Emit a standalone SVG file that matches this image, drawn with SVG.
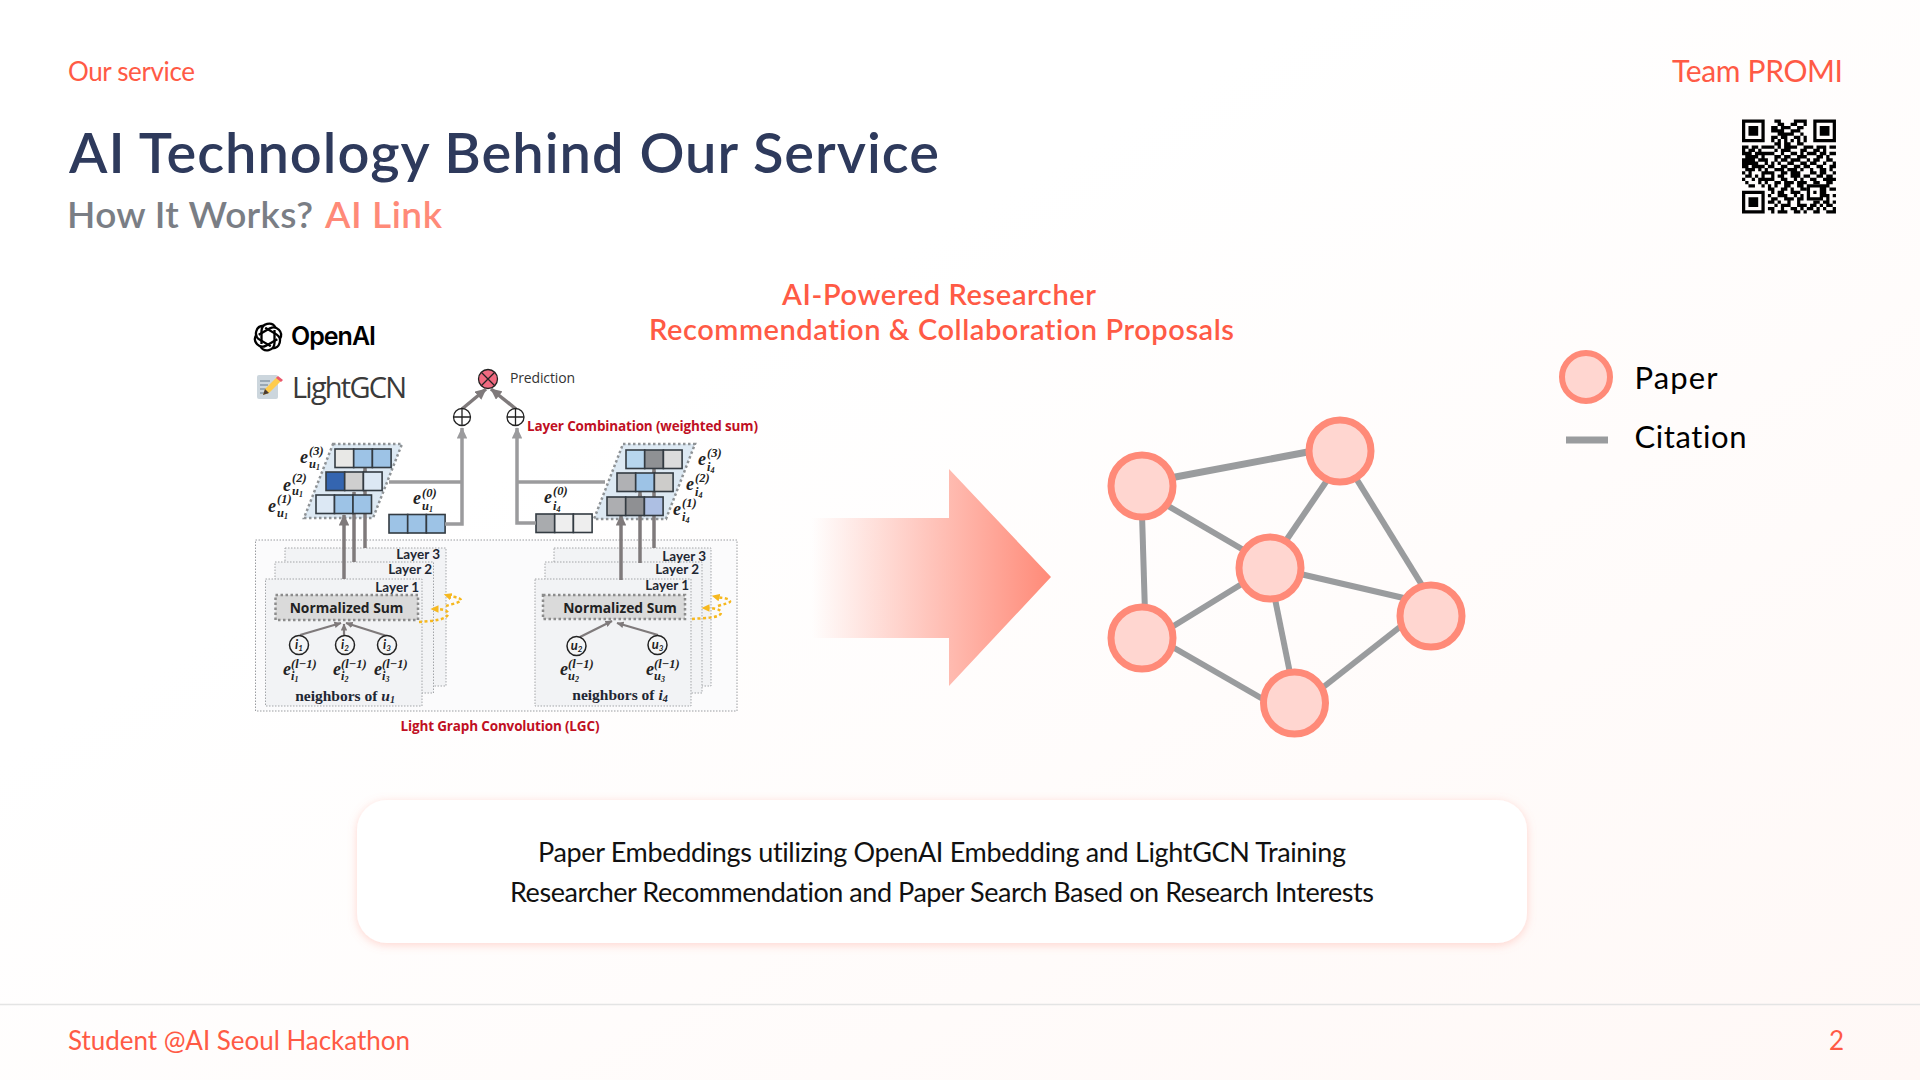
<svg xmlns="http://www.w3.org/2000/svg" width="1920" height="1080" viewBox="0 0 1920 1080">
<style>
text{font-family:"Lato","Noto Sans",sans-serif;font-variant-ligatures:none}
.coral{fill:#ff5a45}
.node{fill:#ffd6d0;stroke:#ff8a78;stroke-width:7}
.edge{stroke:#9a9c9e;stroke-width:6;fill:none}
.body{fill:#111;font-size:27px}
.serif{font-family:"Liberation Serif",serif;font-weight:700;fill:#1f2733}
.math{font-family:"Liberation Serif",serif;font-weight:700;font-style:italic;fill:#222;font-size:18px}
.ms{font-family:"Liberation Serif",serif;font-weight:700;font-style:italic;fill:#222;font-size:12.5px}
.mss{font-family:"Liberation Serif",serif;font-weight:700;fill:#222;font-size:8px}
.red{font-family:"Open Sans",sans-serif;font-weight:700;fill:#c00f23;font-size:13.5px}
.cell{stroke:#333b42;stroke-width:1.6}
.gl{stroke:#9b9b9d;stroke-width:3.5;fill:none}
.up{stroke:#7f7a7b;stroke-width:3.5;fill:none}
.para{fill:#dde9f3;stroke:#8f9396;stroke-width:2.5;stroke-dasharray:2.5 2.5}
.layer{fill:#f2f3f5;stroke:#a3a5a8;stroke-width:1;stroke-dasharray:1.5 1.5}
.ns{fill:#dadada;stroke:#8c8c8c;stroke-width:2.5;stroke-dasharray:2.5 2.5}
.nst{font-family:"Open Sans",sans-serif;font-weight:700;font-size:13.8px;fill:#222;text-anchor:middle}
.ring{fill:#f4f5f6;stroke:#222;stroke-width:1.5}
.yl{fill:none;stroke:#f6b81f;stroke-width:2.5;stroke-dasharray:3 2.5}
.sym{fill:none;stroke:#222;stroke-width:1.3}
</style>
<defs>
<linearGradient id="bg" x1="0" y1="0" x2="1" y2="1"><stop offset="0.35" stop-color="#ffffff"/><stop offset="1" stop-color="#fff8f6"/></linearGradient>
<linearGradient id="ag" gradientUnits="userSpaceOnUse" x1="812" y1="577" x2="1051" y2="577"><stop offset="0" stop-color="#ff8a78" stop-opacity="0"/><stop offset="1" stop-color="#ff8a78"/></linearGradient>
<filter id="sh" x="-5%" y="-15%" width="110%" height="130%"><feDropShadow dx="0" dy="2" stdDeviation="5" flood-color="#ff8a78" flood-opacity="0.35"/></filter>
<marker id="ag1" markerWidth="3.4" markerHeight="3" refX="3" refY="1.5" orient="auto"><path d="M0 0L3.2 1.5L0 3z" fill="#9b9b9d"/></marker>
<marker id="ag2" markerWidth="3.4" markerHeight="3" refX="3" refY="1.5" orient="auto"><path d="M0 0L3.2 1.5L0 3z" fill="#7f7a7b"/></marker>
<marker id="ay" markerWidth="3.4" markerHeight="3" refX="1" refY="1.5" orient="auto"><path d="M0 0L3.2 1.5L0 3z" fill="#f6b81f"/></marker>
<path id="petal" d="M-6.500 7V-6A7.500 7.500 0 0 1 7.500 -9.500"/>
</defs>
<rect width="1920" height="1080" fill="url(#bg)"/>

<text x="68" y="81" class="coral" font-size="26" textLength="127">Our service</text>
<text x="1843" y="82" class="coral" font-size="30" text-anchor="end" textLength="171">Team PROMI</text>
<text x="69" y="173" font-size="56" font-weight="600" fill="#2e3a5c" textLength="870">AI Technology Behind Our Service</text>
<text x="67" y="228" font-size="37" fill="#7a7e85" font-weight="600" textLength="246">How It Works?</text>
<text x="325" y="228" font-size="37" fill="#ff8a78" font-weight="600" textLength="117">AI Link</text>

<g id="qr" transform="translate(1742 119.500) scale(3.24)">
<path fill="#000" fill-rule="evenodd" d="M0 0h7v7h-7zM1 1v5h5v-5zM22 0h7v7h-7zM23 1v5h5v-5zM0 22h7v7h-7zM1 23v5h5v-5zM2 2h3v3h-3zM24 2h3v3h-3zM2 24h3v3h-3zM20 20h5v5h-5zM21 21v3h3v-3zM22 22h1v1h-1z"/>
<path stroke="#000" stroke-width="1.02" fill="none" d="M10 .5h2M16 .5h4M11 1.5h2M15 1.5h2M19 1.5h1M9 2.5h2M12 2.5h3M17 2.5h2M9 3.5h4M15 3.5h3M11 4.5h5M18 4.5h1M9 5.5h2M12 5.5h2M16 5.5h2M19 5.5h1M9 6.5h1M11 6.5h1M13 6.5h1M15 6.5h1M17 6.5h1M19 6.5h1M10 7.5h2M13 7.5h2M17 7.5h2M0 8.5h2M3 8.5h2M6 8.5h4M11 8.5h1M13 8.5h4M19 8.5h2M21 8.5h1M23 8.5h3M27 8.5h2M0 9.5h1M2 9.5h2M5 9.5h1M10 9.5h1M12 9.5h3M18 9.5h2M22 9.5h2M25 9.5h1M0 10.5h3M4 10.5h6M12 10.5h1M15 10.5h2M18 10.5h1M20 10.5h3M24 10.5h2M27 10.5h2M1 11.5h4M6 11.5h1M10 11.5h2M13 11.5h2M17 11.5h3M23 11.5h2M26 11.5h1M0 12.5h4M5 12.5h3M10 12.5h1M12 12.5h2M15 12.5h3M20 12.5h1M22 12.5h2M26 12.5h2M0 13.5h5M7 13.5h1M9 13.5h1M11 13.5h1M14 13.5h2M18 13.5h2M21 13.5h2M25 13.5h1M28 13.5h1M0 14.5h2M3 14.5h4M8 14.5h2M12 14.5h2M16 14.5h2M19 14.5h2M23 14.5h2M27 14.5h2M1 15.5h3M5 15.5h1M7 15.5h1M10 15.5h3M14 15.5h3M18 15.5h1M21 15.5h1M24 15.5h2M27 15.5h1M0 16.5h1M2 16.5h1M6 16.5h3M9 16.5h1M12 16.5h2M15 16.5h3M21 16.5h2M24 16.5h2M28 16.5h1M1 17.5h2M4 17.5h1M6 17.5h1M9 17.5h1M11 17.5h2M15 17.5h3M19 17.5h2M23 17.5h2M26 17.5h2M0 18.5h1M3 18.5h1M5 18.5h5M12 18.5h2M16 18.5h1M18 18.5h1M21 18.5h2M25 18.5h2M27 18.5h2M1 19.5h1M5 19.5h1M7 19.5h1M10 19.5h2M13 19.5h3M17 19.5h3M22 19.5h2M26 19.5h2M2 20.5h2M6 20.5h1M8 20.5h1M10 20.5h1M13 20.5h2M17 20.5h2M25 20.5h2M8 21.5h2M12 21.5h2M15 21.5h1M18 21.5h2M25 21.5h1M27 21.5h2M9 22.5h1M11 22.5h2M15 22.5h3M25 22.5h1M8 23.5h1M11 23.5h3M16 23.5h1M18 23.5h1M25 23.5h2M28 23.5h1M9 24.5h2M13 24.5h3M17 24.5h2M26 24.5h1M8 25.5h2M11 25.5h1M14 25.5h1M17 25.5h1M22 25.5h2M25 25.5h2M28 25.5h1M10 26.5h1M12 26.5h3M17 26.5h3M21 26.5h2M24 26.5h1M26 26.5h2M8 27.5h2M12 27.5h1M15 27.5h2M18 27.5h1M20 27.5h2M23 27.5h1M25 27.5h1M28 27.5h1M9 28.5h1M11 28.5h3M16 28.5h2M19 28.5h1M22 28.5h2M26 28.5h3"/>
</g>

<g id="heading">
<text x="939" y="305" class="coral" font-size="29" font-weight="600" text-anchor="middle" textLength="314">AI-Powered Researcher</text>
<text x="941.500" y="340" class="coral" font-size="29" font-weight="600" text-anchor="middle" textLength="585">Recommendation &amp; Collaboration Proposals</text>
</g>

<g id="openai-logo" transform="translate(268 337)" fill="none" stroke="#000" stroke-width="2.300">
<use href="#petal"/>
<use href="#petal" transform="rotate(60)"/>
<use href="#petal" transform="rotate(120)"/>
<use href="#petal" transform="rotate(180)"/>
<use href="#petal" transform="rotate(240)"/>
<use href="#petal" transform="rotate(300)"/>
</g>
<text x="291" y="345" font-size="25" font-weight="600" fill="#000" style="font-family:Inter,sans-serif" textLength="85">OpenAI</text>
<g id="memo-icon">
<rect x="257" y="375" width="21" height="24" rx="2" fill="#ccd6dd"/>
<path d="M260 381h10M260 385h8M260 389h7M260 393h8" stroke="#8899a6" stroke-width="1.3"/>
<path d="M263 395l2-6 12-12 4 4-12 12z" fill="#ffcc4d"/>
<path d="M276 378l2-2 5 4-2 2z" fill="#ea596e"/>
<path d="M263 395l2-6 4 4z" fill="#4a3b33"/>
</g>
<text x="292" y="398" font-size="29" fill="#3a3a3a" style="font-family:'Open Sans',sans-serif" textLength="115">LightGCN</text>

<g id="lightgcn-figure">
<rect x="255.500" y="540" width="481.500" height="171" fill="#fbfbfc" stroke="#9a9ca0" stroke-width="1" stroke-dasharray="1.500 1.500"/>
<rect class="layer" x="285" y="548" width="161" height="138"/>
<rect class="layer" x="275" y="562" width="158.500" height="131"/>
<rect class="layer" x="265.500" y="579" width="156.500" height="127"/>
<g id="right-stack-boxes" transform="translate(2 0)">
<rect class="layer" x="552" y="548" width="157" height="138"/>
<rect class="layer" x="543" y="562" width="157" height="131"/>
<rect class="layer" x="533" y="579" width="156" height="127"/>
</g>
<g class="serif" font-size="13.500" text-anchor="end">
<text x="440" y="559">Layer 3</text><text x="432" y="574">Layer 2</text><text x="419" y="592">Layer 1</text>
<text x="706" y="561">Layer 3</text><text x="699" y="574">Layer 2</text><text x="689" y="590">Layer 1</text>
</g>
<rect class="ns" x="275.500" y="595" width="142.500" height="25"/>
<rect class="ns" x="543" y="595" width="142" height="24"/>
<text class="nst" x="346.500" y="613">Normalized Sum</text>
<text class="nst" x="620" y="613">Normalized Sum</text>
<g class="up">
<path stroke-width="2.200" marker-end="url(#ag2)" d="M300 635L341 623"/>
<path stroke-width="2.200" marker-end="url(#ag2)" d="M344 635L344 624"/>
<path stroke-width="2.200" marker-end="url(#ag2)" d="M387 636L346 623"/>
<path stroke-width="2.200" marker-end="url(#ag2)" d="M580 637L612 621"/>
<path stroke-width="2.200" marker-end="url(#ag2)" d="M658 635L617 623"/>
</g>
<g class="ring">
<circle cx="299" cy="645" r="9.500"/><circle cx="345" cy="645" r="9.500"/><circle cx="387" cy="645" r="9.500"/><circle cx="576.500" cy="646" r="9.500"/><circle cx="657.500" cy="645" r="9.500"/>
</g>
<g class="ms" text-anchor="middle">
<text x="299" y="649" style="font-size:13px">i<tspan dy="2" style="font-size:8px">1</tspan></text>
<text x="345" y="649" style="font-size:13px">i<tspan dy="2" style="font-size:8px">2</tspan></text>
<text x="387" y="649" style="font-size:13px">i<tspan dy="2" style="font-size:8px">3</tspan></text>
<text x="576.500" y="650" style="font-size:13px">u<tspan dy="2" style="font-size:8px">2</tspan></text>
<text x="657.500" y="649" style="font-size:13px">u<tspan dy="2" style="font-size:8px">3</tspan></text>
</g>
<g>
<text class="math" x="283" y="675">e</text><text class="ms" x="291" y="668">(l−1)</text><text class="ms" x="291" y="680">i<tspan class="mss" dy="2">1</tspan></text>
<text class="math" x="333" y="675">e</text><text class="ms" x="341" y="668">(l−1)</text><text class="ms" x="341" y="680">i<tspan class="mss" dy="2">2</tspan></text>
<text class="math" x="374" y="675">e</text><text class="ms" x="382" y="668">(l−1)</text><text class="ms" x="382" y="680">i<tspan class="mss" dy="2">3</tspan></text>
<text class="math" x="560" y="675">e</text><text class="ms" x="568" y="668">(l−1)</text><text class="ms" x="568" y="680">u<tspan class="mss" dy="2">2</tspan></text>
<text class="math" x="646" y="675">e</text><text class="ms" x="654" y="668">(l−1)</text><text class="ms" x="654" y="680">u<tspan class="mss" dy="2">3</tspan></text>
</g>
<text class="serif" font-size="15.500" x="345" y="701" text-anchor="middle">neighbors of <tspan font-style="italic">u<tspan font-size="10" dy="2">1</tspan></tspan></text>
<text class="serif" font-size="15.500" x="620" y="700" text-anchor="middle">neighbors of <tspan font-style="italic">i<tspan font-size="10" dy="2">4</tspan></tspan></text>
<path class="yl" d="M419 622C432 621 447 620 448 614C449 610 440 609 436 609" marker-end="url(#ay)"/>
<path class="yl" d="M446 606C452 604 462 602 461 600C460 597 452 597 449 596" marker-end="url(#ay)"/>
<path class="yl" d="M692 619C704 618 720 618 721 613C722 609 712 608 707 608" marker-end="url(#ay)"/>
<path class="yl" d="M718 606C724 604 731 603 730 601C729 598 721 598 717 597" marker-end="url(#ay)"/>
<text class="red" x="500" y="731" text-anchor="middle" textLength="199">Light Graph Convolution (LGC)</text>

<polygon class="para" points="333,444 402,444 373,518 304,518"/>
<polygon class="para" points="623,444 695,444 666,519 594,519"/>

<g class="up">
<path marker-end="url(#ag2)" d="M344 579V515"/>
<path marker-end="url(#ag2)" d="M354 562V492"/>
<path marker-end="url(#ag2)" d="M365 548V468"/>
<path marker-end="url(#ag2)" d="M621 580V515"/>
<path marker-end="url(#ag2)" d="M640 563V492"/>
<path marker-end="url(#ag2)" d="M654 548V469"/>
</g>
<g id="emb-u3" class="cell"><rect x="335" y="449" width="18.700" height="18.500" fill="#e8e8e6"/><rect x="353.700" y="449" width="18.700" height="18.500" fill="#9dc3e6"/><rect x="372.400" y="449" width="18.700" height="18.500" fill="#9dc3e6"/></g>
<g id="emb-u2" class="cell"><rect x="326" y="472" width="18.700" height="18.500" fill="#3465b0"/><rect x="344.700" y="472" width="18.700" height="18.500" fill="#cfcfcf"/><rect x="363.400" y="472" width="18.700" height="18.500" fill="#dce8f4"/></g>
<g id="emb-u1" class="cell"><rect x="316" y="495" width="18.500" height="18.500" fill="#dce8f4"/><rect x="334.500" y="495" width="18.500" height="18.500" fill="#9dc3e6"/><rect x="353" y="495" width="18.500" height="18.500" fill="#9dc3e6"/></g>
<g id="emb-u0" class="cell"><rect x="389" y="514.500" width="18.700" height="18.500" fill="#9dc3e6"/><rect x="407.700" y="514.500" width="18.700" height="18.500" fill="#9dc3e6"/><rect x="426.400" y="514.500" width="18.700" height="18.500" fill="#9dc3e6"/></g>
<g id="emb-i3" class="cell"><rect x="626" y="450" width="18.700" height="18.500" fill="#b7d6ee"/><rect x="644.700" y="450" width="18.700" height="18.500" fill="#8f9194"/><rect x="663.400" y="450" width="18.700" height="18.500" fill="#dcdcdc"/></g>
<g id="emb-i2" class="cell"><rect x="617" y="473" width="18.700" height="18.500" fill="#b0b1b4"/><rect x="635.700" y="473" width="18.700" height="18.500" fill="#9dc3e6"/><rect x="654.400" y="473" width="18.700" height="18.500" fill="#cdccca"/></g>
<g id="emb-i1" class="cell"><rect x="607" y="497" width="18.700" height="18.500" fill="#adaeb1"/><rect x="625.700" y="497" width="18.700" height="18.500" fill="#8f9093"/><rect x="644.400" y="497" width="18.700" height="18.500" fill="#adbfe3"/></g>
<g id="emb-i0" class="cell"><rect x="536" y="514" width="18.700" height="18.500" fill="#a9abae"/><rect x="554.700" y="514" width="18.700" height="18.500" fill="#eeeeee"/><rect x="573.400" y="514" width="18.700" height="18.500" fill="#eeeeee"/></g>

<g>
<text class="math" x="300" y="463">e</text><text class="ms" x="309" y="455">(3)</text><text class="ms" x="309" y="468">u<tspan class="mss" dy="2">1</tspan></text>
<text class="math" x="283" y="491">e</text><text class="ms" x="292" y="482">(2)</text><text class="ms" x="292" y="495">u<tspan class="mss" dy="2">1</tspan></text>
<text class="math" x="268" y="512">e</text><text class="ms" x="277" y="503">(1)</text><text class="ms" x="277" y="517">u<tspan class="mss" dy="2">1</tspan></text>
<text class="math" x="413" y="504">e</text><text class="ms" x="422" y="497">(0)</text><text class="ms" x="422" y="510">u<tspan class="mss" dy="2">1</tspan></text>
<text class="math" x="698" y="465">e</text><text class="ms" x="707" y="457">(3)</text><text class="ms" x="707" y="471">i<tspan class="mss" dy="2">4</tspan></text>
<text class="math" x="686" y="490">e</text><text class="ms" x="695" y="482">(2)</text><text class="ms" x="695" y="496">i<tspan class="mss" dy="2">4</tspan></text>
<text class="math" x="673" y="515">e</text><text class="ms" x="682" y="507">(1)</text><text class="ms" x="682" y="521">i<tspan class="mss" dy="2">4</tspan></text>
<text class="math" x="544" y="503">e</text><text class="ms" x="553" y="495">(0)</text><text class="ms" x="553" y="510">i<tspan class="mss" dy="2">4</tspan></text>
</g>

<path class="gl" marker-end="url(#ag1)" d="M445 524H462V428"/>
<path class="gl" d="M389 482H462"/>
<path class="gl" marker-end="url(#ag1)" d="M536 523H517V428"/>
<path class="gl" d="M517 482H605"/>
<path class="up" marker-end="url(#ag2)" d="M462 409L486 389"/>
<path class="up" marker-end="url(#ag2)" d="M516 409L491 389"/>
<g class="sym"><circle cx="462" cy="417" r="8.500" fill="#fff"/><path d="M453.500 417h17M462 408.500v17"/><circle cx="515.500" cy="417" r="8.500" fill="#fff"/><path d="M507 417h17M515.500 408.500v17"/></g>
<circle cx="488" cy="379" r="9.500" fill="#ef6a80" stroke="#222" stroke-width="1.300"/><path class="sym" d="M481.500 372.500l13 13M494.500 372.500l-13 13"/>
<text x="510" y="383" font-size="14" fill="#333" style="font-family:'Open Sans',sans-serif" textLength="65">Prediction</text>
<text class="red" x="527" y="431" textLength="231">Layer Combination (weighted sum)</text>
</g>

<polygon id="big-arrow" points="812,518 949,518 949,469 1051,577 949,686 949,638 812,638" fill="url(#ag)"/>

<g id="connectors">
<path class="edge" stroke-width="7" style="stroke-width:7" d="M1170 478L1313 451"/>
<path class="edge" d="M1163 503L1247 552"/>
<path class="edge" d="M1142 514L1145 613"/>
<path class="edge" d="M1330 476L1283 545"/>
<path class="edge" d="M1354 475L1425 590"/>
<path class="edge" d="M1296 573L1408 599"/>
<path class="edge" d="M1245 582L1167 630"/>
<path class="edge" d="M1274 594L1291 678"/>
<path class="edge" d="M1169 645L1268 702"/>
<path class="edge" d="M1405 623L1317 692"/>
</g>
<g id="node-1"><circle class="node" cx="1142" cy="486" r="31"/></g>
<g id="node-2"><circle class="node" cx="1340" cy="451" r="31"/></g>
<g id="node-3"><circle class="node" cx="1270" cy="568" r="31"/></g>
<g id="node-4"><circle class="node" cx="1431" cy="616" r="31"/></g>
<g id="node-5"><circle class="node" cx="1142" cy="638" r="31"/></g>
<g id="node-6"><circle class="node" cx="1294.500" cy="703" r="31"/></g>

<g id="legend">
<circle class="node" cx="1586" cy="377" r="24" style="stroke-width:6"/>
<text x="1634.500" y="389" font-size="31" fill="#000" textLength="83">Paper</text>
<path d="M1566 440H1608" stroke="#9a9c9e" stroke-width="7"/>
<text x="1634.500" y="448" font-size="31" fill="#000" textLength="112">Citation</text>
</g>

<g id="card">
<rect x="357" y="800" width="1170" height="143" rx="30" fill="#fff" filter="url(#sh)"/>
<text class="body" x="538" y="862" textLength="808">Paper Embeddings utilizing OpenAI Embedding and LightGCN Training</text>
<text class="body" x="510" y="902" textLength="864">Researcher Recommendation and Paper Search Based on Research Interests</text>
</g>

<path id="footer-rule" d="M0 1004.500H1920" stroke="#e4e4e4" stroke-width="1.500"/>
<text x="68" y="1050" class="coral" font-size="26" textLength="342">Student @AI Seoul Hackathon</text>
<text x="1844" y="1050" class="coral" font-size="26" text-anchor="end">2</text>
</svg>
